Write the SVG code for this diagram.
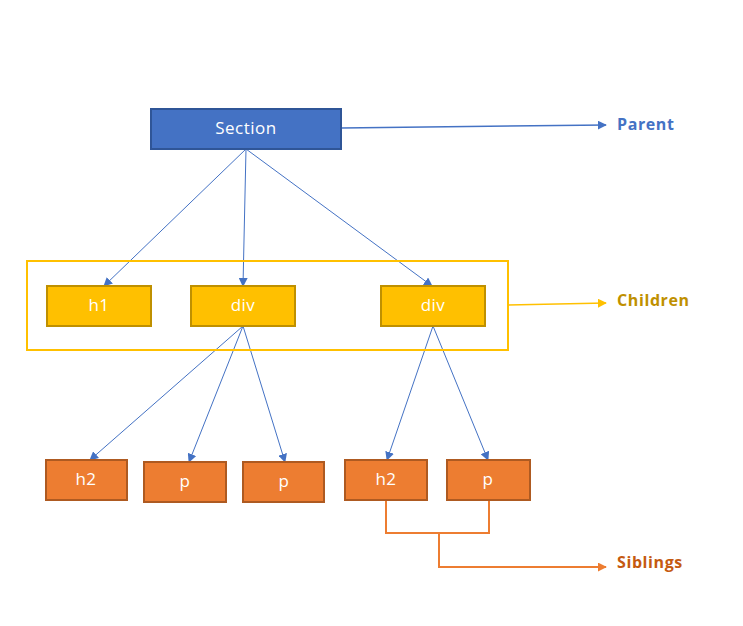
<svg xmlns="http://www.w3.org/2000/svg" width="743" height="626" viewBox="0 0 743 626">
<style>
.lbl{font-family:"Open Sans","Liberation Sans",sans-serif;font-size:17px;fill:#fff;text-anchor:middle;letter-spacing:0.5px}
.side{font-family:"Open Sans","Liberation Sans",sans-serif;font-size:16px;font-weight:700;letter-spacing:0.6px}
.blue{fill:#4472C4;stroke:#2F5597;stroke-width:2}
.yel{fill:#FFC000;stroke:#BF9000;stroke-width:2}
.org{fill:#ED7D31;stroke:#AE5A21;stroke-width:2}
.cb{stroke:#4472C4;stroke-width:1;fill:none;marker-end:url(#ab)}
</style>
<defs>
<marker id="ab" viewBox="0 0 10 10" refX="9" refY="5" markerWidth="9" markerHeight="9" markerUnits="userSpaceOnUse" orient="auto"><path d="M0,0L10,5L0,10z" fill="#4472C4"/></marker>
<marker id="ay" viewBox="0 0 10 10" refX="9" refY="5" markerWidth="9" markerHeight="9" markerUnits="userSpaceOnUse" orient="auto"><path d="M0,0L10,5L0,10z" fill="#FFC000"/></marker>
<marker id="ao" viewBox="0 0 10 10" refX="9" refY="5" markerWidth="9" markerHeight="9" markerUnits="userSpaceOnUse" orient="auto"><path d="M0,0L10,5L0,10z" fill="#ED7D31"/></marker>
</defs>
<rect width="743" height="626" fill="#fff"/>
<g id="connectors">
<line class="cb" x1="341" y1="128" x2="606" y2="125" style="stroke-width:1.5"/>
<line class="cb" x1="246" y1="149" x2="104" y2="286"/>
<line class="cb" x1="246" y1="149" x2="243" y2="286"/>
<line class="cb" x1="246" y1="149" x2="432" y2="286"/>
<line class="cb" x1="243" y1="326" x2="90" y2="460"/>
<line class="cb" x1="243" y1="326" x2="189" y2="462"/>
<line class="cb" x1="243" y1="326" x2="285" y2="462"/>
<line class="cb" x1="433" y1="326" x2="387" y2="460"/>
<line class="cb" x1="433" y1="326" x2="488" y2="460"/>
<line x1="508" y1="305" x2="606" y2="303" stroke="#FFC000" stroke-width="1.5" marker-end="url(#ay)"/>
<path d="M386,500V533H489V500M439,533V567H606" fill="none" stroke="#ED7D31" stroke-width="2" marker-end="url(#ao)"/>
</g>
<g id="children-group"><rect x="27" y="261" width="481" height="89" fill="none" stroke="#FFC000" stroke-width="2"/></g>
<g id="section"><rect class="blue" x="151" y="109" width="190" height="40"/><text class="lbl" x="246" y="134">Section</text></g>
<g id="h1"><rect class="yel" x="47" y="286" width="104" height="40"/><text class="lbl" x="99" y="311">h1</text></g>
<g id="div1"><rect class="yel" x="191" y="286" width="104" height="40"/><text class="lbl" x="243" y="311">div</text></g>
<g id="div2"><rect class="yel" x="381" y="286" width="104" height="40"/><text class="lbl" x="433" y="311">div</text></g>
<g id="h2a"><rect class="org" x="46" y="460" width="81" height="40"/><text class="lbl" x="86" y="485">h2</text></g>
<g id="pa"><rect class="org" x="144" y="462" width="82" height="40"/><text class="lbl" x="185" y="487">p</text></g>
<g id="pb"><rect class="org" x="243" y="462" width="81" height="40"/><text class="lbl" x="284" y="487">p</text></g>
<g id="h2b"><rect class="org" x="345" y="460" width="82" height="40"/><text class="lbl" x="386" y="485">h2</text></g>
<g id="pc"><rect class="org" x="447" y="460" width="83" height="40"/><text class="lbl" x="488" y="485">p</text></g>
<g id="parent-label"><text class="side" x="617" y="130" fill="#4472C4">Parent</text></g>
<g id="children-label"><text class="side" x="617" y="306" fill="#BF9000">Children</text></g>
<g id="siblings-label"><text class="side" x="617" y="568" fill="#C55A11">Siblings</text></g>
</svg>
